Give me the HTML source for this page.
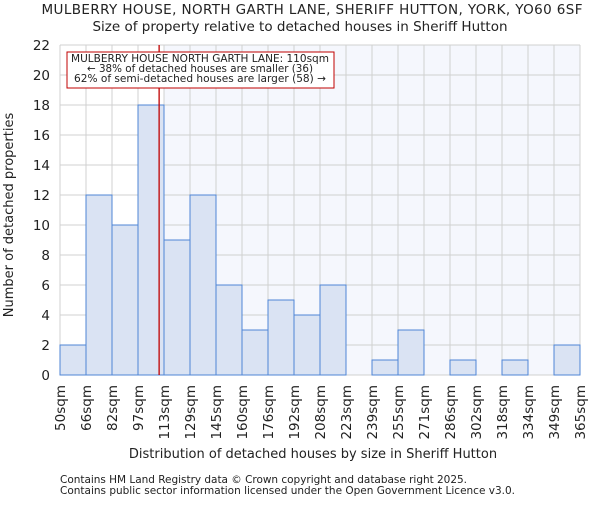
<!DOCTYPE html>
<html><head><meta charset="utf-8"><style>
body{margin:0;background:#fff;}
svg text{font-family:"DejaVu Sans","Liberation Sans",sans-serif;fill:#222;}
</style></head><body>
<svg id="chart" width="600" height="500" xmlns="http://www.w3.org/2000/svg">
<text x="312" y="14" font-size="13.5" text-anchor="middle" textLength="541">MULBERRY HOUSE, NORTH GARTH LANE, SHERIFF HUTTON, YORK, YO60 6SF</text>
<text x="300" y="31" font-size="13.5" text-anchor="middle">Size of property relative to detached houses in Sheriff Hutton</text>
<g id="plot"></g>
<text x="313" y="458" font-size="13" text-anchor="middle">Distribution of detached houses by size in Sheriff Hutton</text>
<text transform="translate(13,215) rotate(-90)" font-size="13" text-anchor="middle">Number of detached properties</text>
<text x="60" y="483" font-size="10.5" textLength="407">Contains HM Land Registry data © Crown copyright and database right 2025.</text>
<text x="60" y="494" font-size="10.5" textLength="455">Contains public sector information licensed under the Open Government Licence v3.0.</text>
</svg>
<script>
const categories=["50sqm","66sqm","82sqm","97sqm","113sqm","129sqm","145sqm","160sqm","176sqm","192sqm","208sqm","223sqm","239sqm","255sqm","271sqm","286sqm","302sqm","318sqm","334sqm","349sqm","365sqm"];
const counts=[2,12,10,18,9,12,6,3,5,4,6,0,1,3,0,1,0,1,0,2];
const yTicks=[0,2,4,6,8,10,12,14,16,18,20,22];
const markerValue=110;
const binStarts=[50,66,82,97,113,129,145,160,176,192,208,223,239,255,271,286,302,318,334,349,365];
const NS="http://www.w3.org/2000/svg";
const L=60,R=580,T=45,B=375,ymax=22;
const bw=(R-L)/counts.length;
const xs=i=>L+i*bw;
const ys=v=>B-v/ymax*(B-T);
function xv(v){for(let i=0;i<binStarts.length-1;i++){if(v>=binStarts[i]&&v<=binStarts[i+1])return xs(i)+(v-binStarts[i])/(binStarts[i+1]-binStarts[i])*bw;}return R;}
const g=document.getElementById('plot');
function mk(t,a){const e=document.createElementNS(NS,t);for(const k in a)e.setAttribute(k,a[k]);g.appendChild(e);return e;}
let mi=0;for(let i=0;i<binStarts.length;i++)if(binStarts[i]<=markerValue)mi=i;
const shade=mk('rect',{x:xs(mi+1),y:T,width:R-xs(mi+1),height:B-T,fill:'#f5f7fd'});


for(let i=0;i<=counts.length;i++){const l=mk('line',{x1:xs(i),x2:xs(i),y1:T,y2:B,stroke:'#d0d0d0','stroke-width':1});

}
yTicks.forEach(v=>{const l=mk('line',{x1:L,x2:R,y1:ys(v),y2:ys(v),stroke:'#d0d0d0','stroke-width':1});


const t=mk('text',{x:L-10,y:ys(v)+5,'font-size':13.5,'text-anchor':'end'});t.textContent=v;

});
counts.forEach((c,i)=>{if(c<=0)return;const r=mk('rect',{x:xs(i),y:ys(c),width:bw,height:B-ys(c),fill:'#dae3f3',stroke:'#4f86d6','stroke-width':1});

});
categories.forEach((c,i)=>{const t=mk('text',{transform:`translate(${xs(i)+5},${B+10}) rotate(-90)`,'font-size':13.5,'text-anchor':'end'});t.textContent=c;

});
const m=mk('line',{x1:xv(markerValue),x2:xv(markerValue),y1:T,y2:B,stroke:'#c00000','stroke-width':1.3});


const box=mk('rect',{x:67,y:52,width:267,height:36,fill:'#fff',stroke:'#c00000','stroke-width':1});


[["MULBERRY HOUSE NORTH GARTH LANE: 110sqm",258],["← 38% of detached houses are smaller (36)",226],["62% of semi-detached houses are larger (58) →",252]].forEach((s,k)=>{const t=mk('text',{x:200,y:62+k*10,'font-size':10.5,'text-anchor':'middle',textLength:s[1],lengthAdjust:'spacingAndGlyphs'});t.textContent=s[0];

});
</script>
</body></html>
